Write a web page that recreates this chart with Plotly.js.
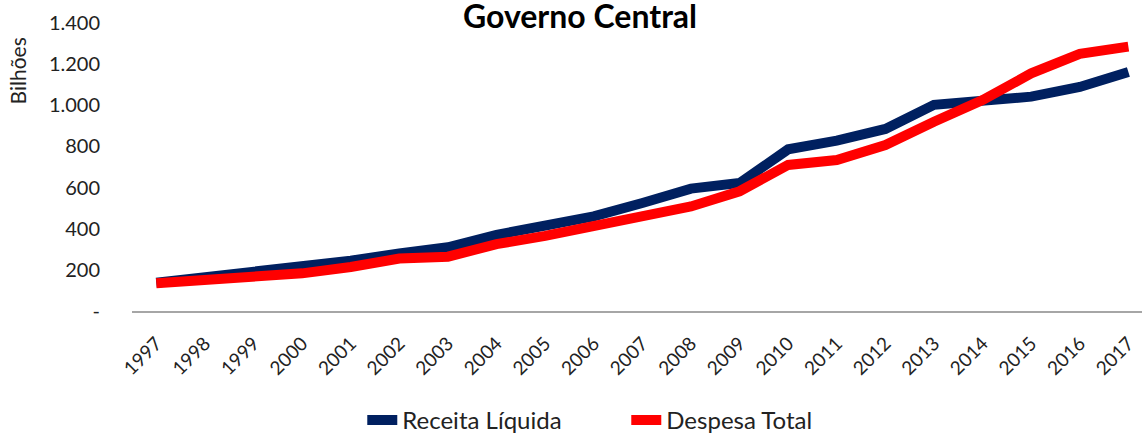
<!DOCTYPE html>
<html>
<head>
<meta charset="utf-8">
<script src="https://cdn.plot.ly/plotly-3.0.1.min.js"></script>
<style>html,body{margin:0;padding:0;background:#fff;}#chart{width:1142px;height:435px;}</style>
</head>
<body>
<div id="chart"></div>
<script>
const years = ["1997","1998","1999","2000","2001","2002","2003","2004","2005","2006","2007","2008","2009","2010","2011","2012","2013","2014","2015","2016","2017"];
const receitaLiquida = [137, 165, 186, 211, 245, 280, 310, 370, 415, 460, 525, 595, 622, 786, 828, 885, 1002, 1025, 1042, 1089, 1162];
const despesaTotal = [135, 150, 164, 183, 214, 255, 264, 325, 365, 410, 465, 508, 582, 710, 734, 807, 920, 1025, 1155, 1250, 1285];
const yTickVals = [0, 200, 400, 600, 800, 1000, 1200, 1400];
const yTickText = ["-", "200", "400", "600", "800", "1.000", "1.200", "1.400"];

const FONT = "Lato, 'Open Sans', sans-serif";

const traces = [
  {x: years, y: receitaLiquida, name: "Receita Líquida", type: "scatter", mode: "lines",
   line: {color: "#002060", width: 10}},
  {x: years, y: despesaTotal, name: "Despesa Total", type: "scatter", mode: "lines",
   line: {color: "#FF0000", width: 10}}
];

const layout = {
  width: 1142, height: 435,
  margin: {l: 132, r: 0, t: 23, b: 124, autoexpand: false},
  paper_bgcolor: "#fff", plot_bgcolor: "#fff",
  font: {family: FONT, color: "#222"},
  title: {text: "<b>Governo Central</b>", font: {family: FONT, size: 32, color: "#000"},
          x: 0.4436, xref: "paper", xanchor: "center", y: 0.988, yref: "container", yanchor: "top", pad: {t: 0}},
  xaxis: {type: "category", range: [-0.5, 20.28], showgrid: false, zeroline: false,
          showline: true, linecolor: "#a6a6a6", linewidth: 2, automargin: false,
          ticks: "outside", ticklen: 12, tickcolor: "rgba(0,0,0,0)",
          tickangle: -45, tickfont: {family: FONT, size: 19, color: "#222"}},
  yaxis: {range: [0, 1400], showgrid: false, zeroline: false, showline: false, automargin: false,
          tickvals: yTickVals, ticktext: yTickText,
          ticks: "outside", ticklen: 27, tickcolor: "rgba(0,0,0,0)",
          tickfont: {family: FONT, size: 20, color: "#222"}},
  showlegend: true,
  legend: {orientation: "h", x: 0.228, xanchor: "left", y: -0.38, yanchor: "middle",
           entrywidth: 219, entrywidthmode: "pixels",
           font: {family: FONT, size: 24, color: "#222"}, traceorder: "normal"},
  annotations: [
    {text: "Bilhões", xref: "paper", yref: "paper", x: -0.113, y: 0.835, textangle: -90,
     showarrow: false, xanchor: "center", yanchor: "middle", font: {family: FONT, size: 21, color: "#222"}}
  ]
};

Plotly.newPlot("chart", traces, layout, {displayModeBar: false, staticPlot: true});
</script>
</body>
</html>
